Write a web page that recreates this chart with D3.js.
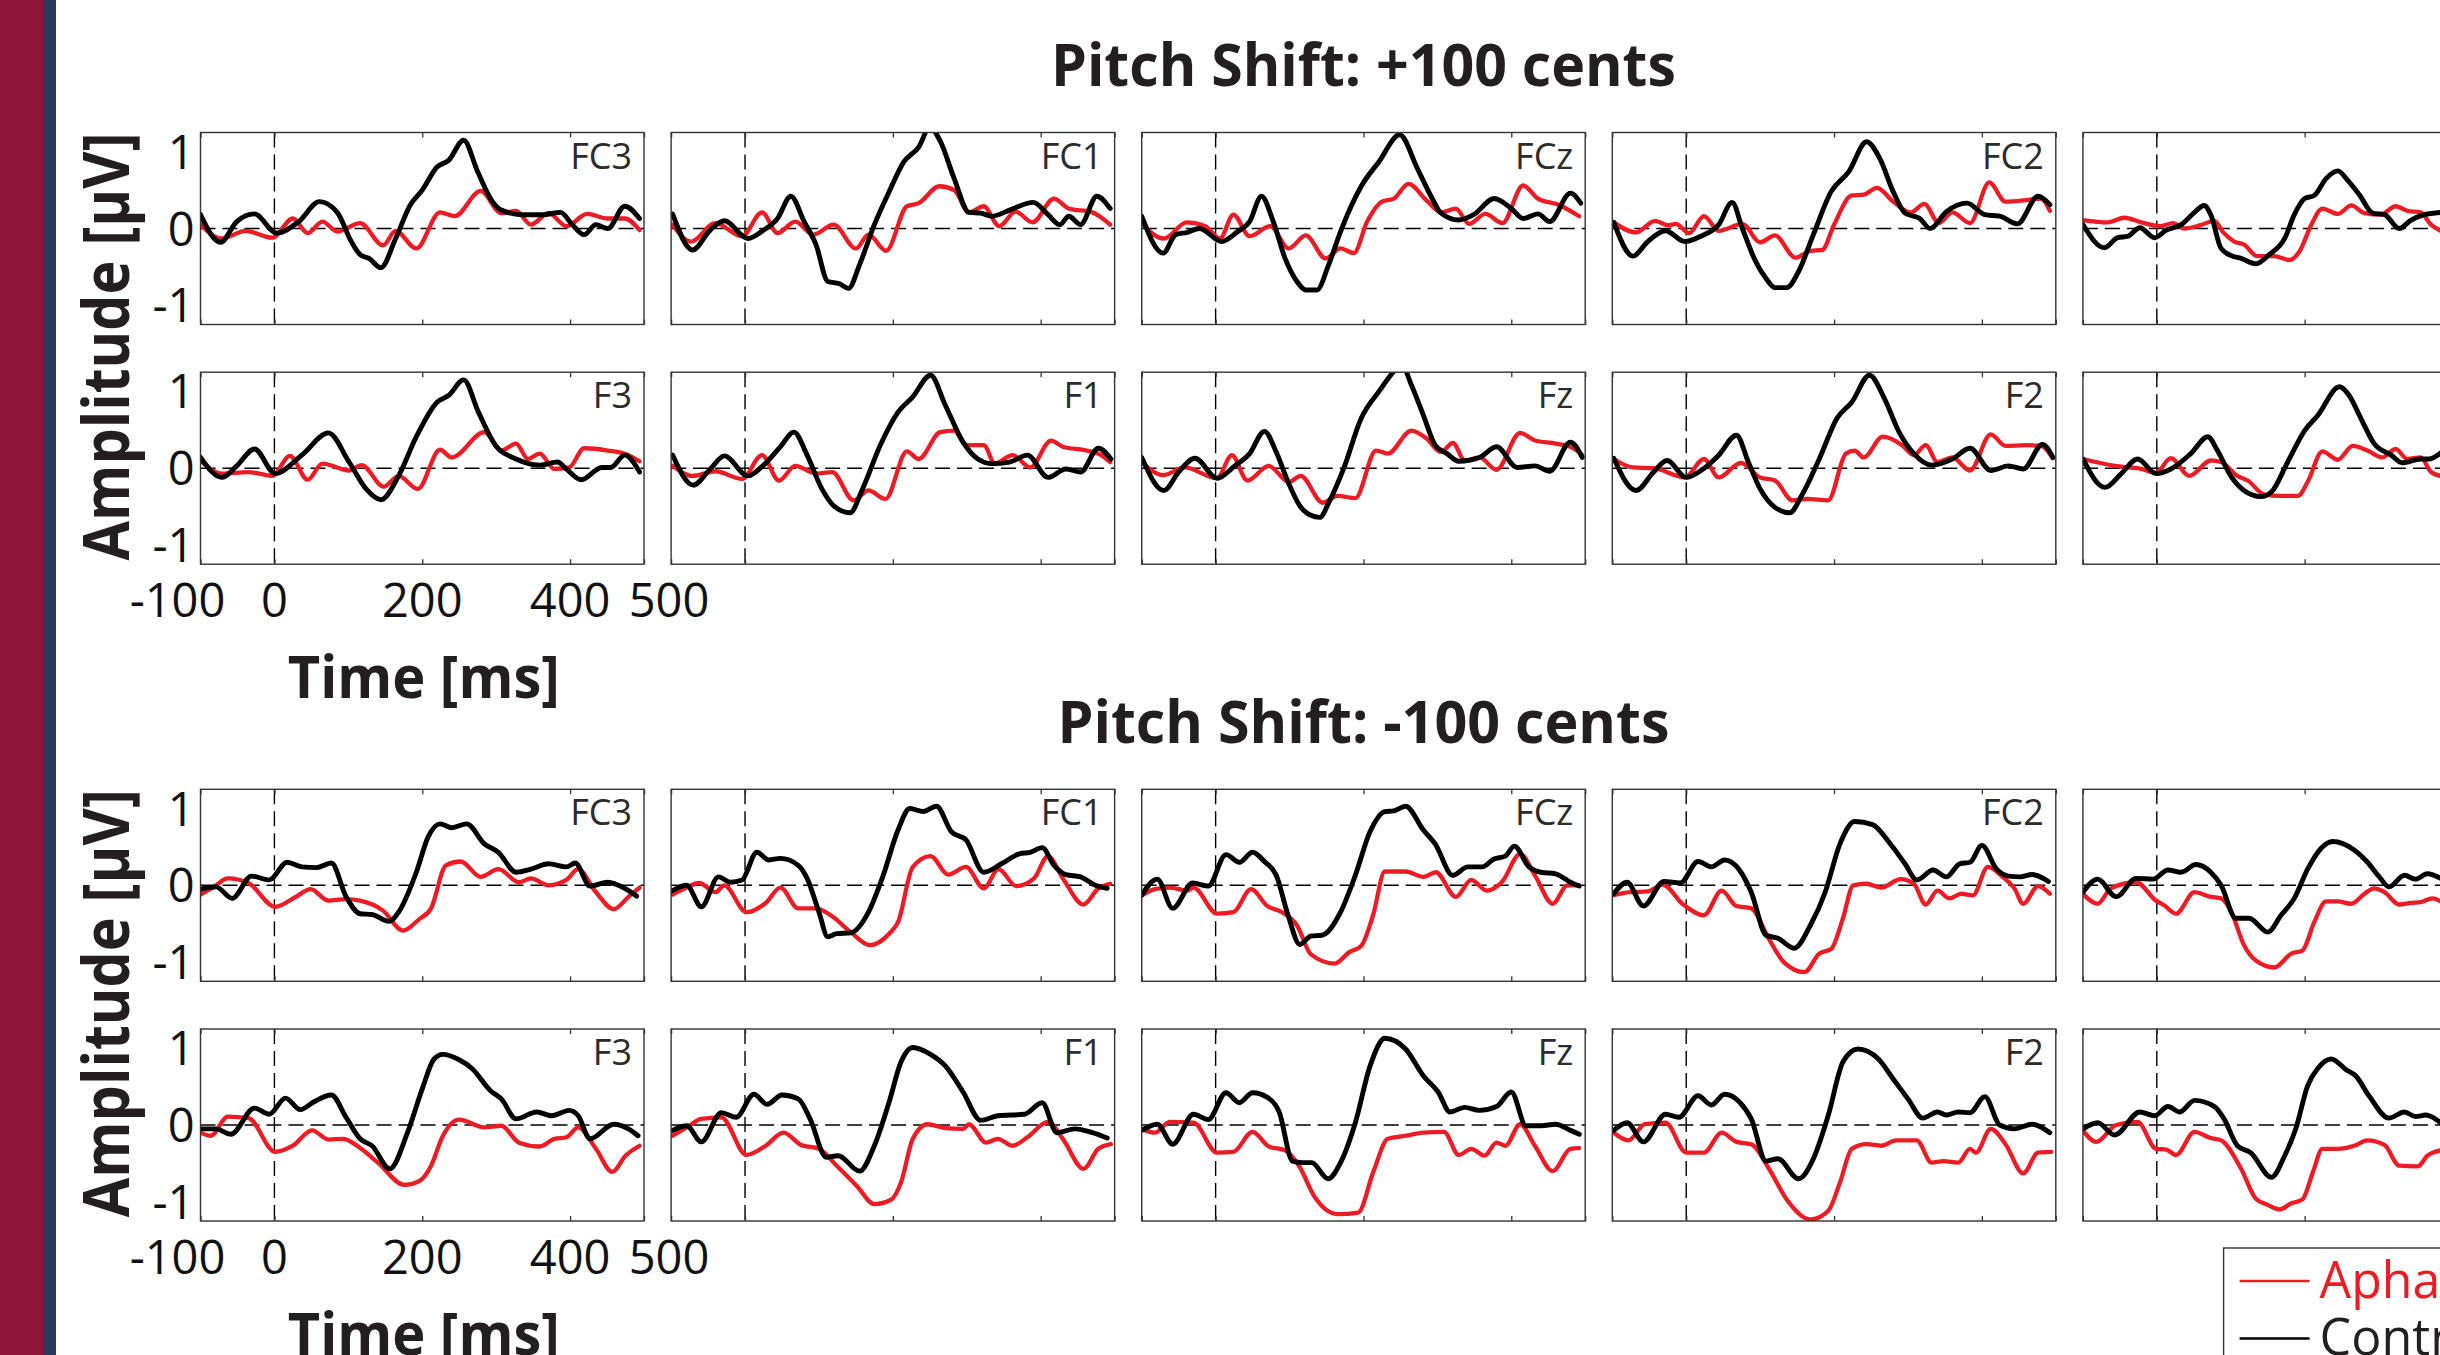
<!DOCTYPE html>
<html>
<head>
<meta charset="utf-8">
<script src="https://cdn.jsdelivr.net/npm/d3@7"></script>
<style>
  html, body { margin: 0; padding: 0; background: #ffffff; overflow: hidden; }
  svg { display: block; }
</style>
</head>
<body>
<svg id="fig" width="2440" height="1355"></svg>
<script>
// ---- labels and ticks ----
const conditionTitles = ["Pitch Shift: +100 cents", "Pitch Shift: -100 cents"];
const electrodeGrid = [["FC3", "FC1", "FCz", "FC2", "FC4"], ["F3", "F1", "Fz", "F2", "F4"]];
const groupNames = ["Aphasia", "Control"];
const xTickValues = [-100, 0, 200, 400, 500];
const yTickValues = [-1, 0, 1];

// ---- grand-average ERP waveforms, [time (ms), amplitude (µV)] ----
// +100 cents
const pos_FC3_aph = [[-100,0.05],[-71,-0.13],[-39,-0.03],[-3,-0.12],[25,0.13],[45,-0.06],[65,0.09],[85,-0.04],[116,0.07],[147,-0.22],[164,-0.03],[192,-0.26],[224,0.21],[244,0.16],[279,0.49],[307,0.2],[327,0.23],[347,0.05],[371,0.2],[395,0.03],[423,0.19],[451,0.13],[474,0.13],[494,-0.02]];
const pos_FC3_ctl = [[-100,0.18],[-73,-0.18],[-51,0.09],[-27,0.19],[3,-0.06],[33,0.09],[61,0.35],[85,0.21],[104,-0.17],[116,-0.34],[128,-0.39],[144,-0.51],[164,-0.13],[184,0.31],[200,0.5],[220,0.8],[236,0.89],[256,1.15],[275,0.74],[295,0.35],[307,0.24],[335,0.18],[363,0.18],[387,0.21],[403,0.05],[419,-0.08],[435,0.05],[451,0.0],[474,0.29],[494,0.13]];
const pos_FC1_aph = [[-98,0.05],[-73,-0.17],[-40,0.07],[-4,-0.10],[23,0.21],[44,-0.06],[68,0.09],[92,-0.08],[120,0.05],[150,-0.26],[167,-0.08],[191,-0.29],[219,0.29],[235,0.33],[263,0.55],[283,0.5],[303,0.21],[323,0.29],[344,0.03],[366,0.22],[389,0.08],[418,0.39],[438,0.26],[470,0.21],[494,0.05]];
const pos_FC1_ctl = [[-98,0.19],[-71,-0.28],[-47,-0.02],[-28,0.10],[4,-0.13],[24,-0.03],[44,0.13],[62,0.42],[80,0.09],[96,-0.21],[112,-0.69],[128,-0.72],[140,-0.78],[155,-0.47],[175,0.05],[195,0.48],[215,0.87],[235,1.06],[250,1.32],[264,1.14],[283,0.65],[303,0.21],[319,0.2],[334,0.16],[358,0.24],[390,0.34],[410,0.18],[426,0.05],[438,0.16],[454,0.05],[476,0.42],[494,0.26]];
const pos_FCz_aph = [[-100,0.07],[-70,-0.13],[-39,0.08],[-14,0.03],[6,-0.13],[24,0.18],[46,-0.10],[74,0.03],[99,-0.26],[122,-0.09],[149,-0.39],[169,-0.26],[187,-0.32],[205,0.09],[225,0.35],[241,0.39],[261,0.58],[285,0.37],[305,0.21],[325,0.26],[343,0.06],[365,0.19],[388,0.07],[416,0.56],[436,0.39],[464,0.31],[492,0.16]];
const pos_FCz_ctl = [[-100,0.16],[-71,-0.32],[-54,-0.08],[-38,-0.05],[-22,0.0],[8,-0.17],[30,-0.04],[46,0.09],[62,0.42],[78,0.09],[94,-0.39],[110,-0.69],[122,-0.80],[137,-0.80],[153,-0.47],[169,-0.04],[197,0.55],[221,0.87],[249,1.22],[273,0.78],[293,0.39],[305,0.2],[329,0.11],[349,0.18],[377,0.39],[400,0.26],[416,0.13],[436,0.19],[452,0.09],[480,0.46],[494,0.33]];
const pos_FC2_aph = [[-98,0.08],[-68,-0.05],[-42,0.10],[-24,0.04],[-14,0.06],[4,-0.06],[24,0.16],[44,-0.03],[76,0.06],[100,-0.18],[120,-0.09],[148,-0.38],[168,-0.29],[184,-0.28],[200,0.05],[224,0.43],[240,0.44],[258,0.53],[280,0.35],[304,0.21],[322,0.32],[342,0.07],[360,0.21],[384,0.07],[410,0.60],[432,0.35],[460,0.37],[480,0.39],[492,0.23]];
const pos_FC2_ctl = [[-98,0.08],[-72,-0.36],[-52,-0.17],[-28,-0.03],[-2,-0.17],[20,-0.10],[44,0.05],[62,0.34],[76,0.0],[92,-0.39],[108,-0.65],[120,-0.77],[136,-0.77],[152,-0.56],[172,-0.08],[196,0.48],[220,0.74],[244,1.13],[262,0.91],[280,0.48],[296,0.2],[316,0.13],[330,0.0],[352,0.22],[380,0.33],[404,0.18],[424,0.16],[448,0.06],[476,0.42],[492,0.31]];
const pos_FC4_aph = [[-100,0.11],[-66,0.08],[-44,0.14],[-21,0.08],[4,0.03],[22,0.07],[37,0.0],[58,0.04],[78,0.10],[89,-0.04],[105,-0.17],[118,-0.21],[136,-0.36],[159,-0.36],[179,-0.41],[193,-0.30],[209,0.05],[224,0.26],[245,0.19],[263,0.30],[281,0.20],[303,0.18],[323,0.29],[339,0.23],[357,0.21],[371,0.05],[384,-0.03]];
const pos_FC4_ctl = [[-100,0.05],[-71,-0.25],[-53,-0.12],[-39,-0.10],[-23,0.01],[-3,-0.12],[13,-0.02],[33,0.05],[51,0.21],[64,0.30],[73,0.18],[87,-0.26],[100,-0.35],[114,-0.39],[134,-0.46],[152,-0.34],[173,-0.13],[186,0.18],[200,0.39],[213,0.43],[229,0.65],[245,0.75],[258,0.63],[274,0.44],[292,0.2],[308,0.18],[328,0.0],[344,0.11],[362,0.18],[384,0.21]];
const pos_F3_aph = [[-100,0.10],[-71,-0.07],[-35,-0.05],[-3,-0.10],[21,0.16],[45,-0.15],[65,0.06],[101,-0.03],[118,0.04],[148,-0.24],[168,-0.10],[194,-0.27],[224,0.24],[240,0.14],[284,0.47],[307,0.23],[327,0.32],[343,0.12],[359,0.19],[379,-0.01],[399,0.01],[419,0.26],[451,0.23],[479,0.17],[494,0.09]];
const pos_F3_ctl = [[-100,0.14],[-71,-0.12],[-51,0.03],[-27,0.25],[1,-0.07],[37,0.17],[73,0.46],[101,0.08],[124,-0.27],[144,-0.41],[168,-0.10],[192,0.41],[220,0.86],[236,0.95],[256,1.15],[276,0.73],[299,0.3],[327,0.12],[359,0.04],[383,0.08],[395,-0.01],[415,-0.15],[443,0.01],[455,0.01],[474,0.17],[494,-0.05]];
const pos_F1_aph = [[-98,0.03],[-71,-0.10],[-40,-0.04],[-4,-0.14],[23,0.17],[46,-0.16],[68,0.03],[96,-0.07],[118,-0.05],[147,-0.42],[167,-0.29],[190,-0.40],[219,0.22],[235,0.12],[264,0.47],[283,0.49],[299,0.30],[323,0.30],[338,0.06],[362,0.17],[386,0.01],[414,0.36],[430,0.28],[462,0.23],[482,0.17],[494,0.08]];
const pos_F1_ctl = [[-98,0.17],[-70,-0.22],[-47,-0.01],[-28,0.16],[4,-0.10],[24,0.03],[48,0.28],[66,0.47],[84,0.17],[104,-0.27],[120,-0.49],[142,-0.58],[159,-0.27],[183,0.30],[207,0.73],[227,0.93],[251,1.21],[271,0.82],[295,0.34],[315,0.12],[334,0.06],[358,0.08],[382,0.17],[410,-0.12],[434,-0.01],[454,-0.05],[478,0.26],[495,0.12]];
const pos_Fz_aph = [[-100,0.08],[-71,-0.09],[-42,0.01],[2,-0.13],[22,0.17],[43,-0.16],[72,0.03],[99,-0.18],[115,-0.10],[145,-0.45],[165,-0.36],[189,-0.39],[217,0.23],[233,0.19],[265,0.49],[285,0.39],[305,0.21],[321,0.33],[337,0.10],[357,0.14],[380,-0.02],[412,0.46],[432,0.36],[460,0.32],[484,0.26],[496,0.17]];
const pos_Fz_ctl = [[-100,0.14],[-70,-0.29],[-50,-0.05],[-28,0.13],[2,-0.13],[26,0.03],[46,0.19],[66,0.48],[82,0.21],[98,-0.18],[114,-0.49],[128,-0.61],[141,-0.64],[153,-0.45],[173,-0.01],[197,0.65],[221,1.0],[241,1.26],[251,1.36],[265,1.08],[281,0.69],[297,0.30],[313,0.19],[329,0.09],[357,0.14],[380,0.28],[408,0.01],[432,0.03],[452,-0.04],[480,0.34],[496,0.14]];
const pos_F2_aph = [[-98,0.12],[-72,0.01],[-44,0.0],[-2,-0.12],[24,0.12],[44,-0.12],[74,0.07],[100,-0.12],[120,-0.16],[144,-0.42],[164,-0.40],[192,-0.42],[216,0.19],[228,0.23],[240,0.14],[266,0.41],[292,0.30],[308,0.17],[324,0.30],[340,0.08],[360,0.14],[384,-0.03],[412,0.44],[432,0.29],[460,0.30],[480,0.29],[496,0.13]];
const pos_F2_ctl = [[-98,0.13],[-68,-0.29],[-44,-0.05],[-26,0.10],[0,-0.12],[20,-0.03],[44,0.17],[68,0.43],[84,0.08],[100,-0.27],[120,-0.51],[140,-0.58],[156,-0.36],[180,0.12],[204,0.65],[224,0.86],[248,1.21],[268,0.91],[288,0.47],[308,0.19],[332,0.04],[360,0.12],[384,0.26],[412,-0.03],[436,0.03],[456,-0.01],[482,0.31],[496,0.14]];
const pos_F4_aph = [[-100,0.12],[-57,0.03],[-21,-0.01],[-1,-0.06],[19,0.13],[44,-0.10],[73,0.10],[87,0.08],[109,-0.10],[123,-0.16],[145,-0.34],[168,-0.36],[191,-0.36],[204,-0.18],[224,0.22],[245,0.11],[265,0.29],[285,0.23],[305,0.14],[323,0.25],[339,0.12],[357,0.14],[371,-0.05],[384,-0.10]];
const pos_F4_ctl = [[-100,0.12],[-70,-0.25],[-48,-0.07],[-26,0.12],[-1,-0.07],[19,-0.01],[46,0.19],[69,0.41],[82,0.23],[100,-0.10],[118,-0.29],[141,-0.37],[155,-0.31],[177,0.08],[200,0.49],[218,0.69],[247,1.06],[260,0.95],[276,0.65],[294,0.32],[317,0.17],[332,0.07],[357,0.12],[368,0.12],[384,0.20]];

// -100 cents
const neg_FC3_aph = [[-100,-0.12],[-82,-0.02],[-63,0.09],[-35,0.03],[1,-0.28],[29,-0.15],[49,-0.05],[73,-0.20],[97,-0.18],[116,-0.20],[147,-0.33],[174,-0.59],[196,-0.44],[212,-0.30],[232,0.26],[252,0.31],[279,0.11],[303,0.21],[331,0.04],[347,0.09],[371,0.0],[395,0.07],[411,0.21],[435,-0.09],[459,-0.31],[479,-0.15],[494,-0.03]];
const neg_FC3_ctl = [[-100,-0.05],[-79,-0.02],[-57,-0.17],[-31,0.12],[-7,0.07],[17,0.30],[37,0.24],[57,0.23],[77,0.29],[97,-0.15],[116,-0.37],[132,-0.38],[155,-0.47],[168,-0.35],[192,0.17],[208,0.63],[224,0.80],[240,0.75],[260,0.80],[284,0.54],[303,0.43],[327,0.17],[347,0.21],[371,0.28],[395,0.24],[407,0.29],[427,-0.01],[451,0.04],[474,-0.04],[490,-0.14]];
const neg_FC1_aph = [[-98,-0.12],[-79,-0.03],[-62,0.03],[-40,-0.09],[-28,0.0],[2,-0.35],[28,-0.23],[48,-0.03],[72,-0.30],[96,-0.30],[116,-0.39],[143,-0.61],[169,-0.78],[195,-0.63],[207,-0.48],[227,0.24],[251,0.38],[275,0.14],[299,0.24],[323,-0.04],[343,0.21],[367,-0.01],[391,0.09],[410,0.38],[430,0.09],[458,-0.25],[478,-0.04],[494,0.02]];
const neg_FC1_ctl = [[-98,-0.07],[-79,0.0],[-59,-0.28],[-36,0.11],[-20,0.04],[-4,0.07],[16,0.43],[32,0.33],[48,0.35],[72,0.26],[84,0.09],[100,-0.35],[112,-0.67],[124,-0.63],[143,-0.62],[167,-0.35],[187,0.13],[207,0.72],[223,1.0],[241,0.96],[259,1.03],[279,0.70],[299,0.59],[323,0.17],[347,0.28],[371,0.41],[386,0.43],[402,0.49],[418,0.26],[434,0.14],[454,0.11],[474,0.0],[490,-0.04]];
const neg_FCz_aph = [[-100,-0.13],[-82,-0.05],[-62,-0.03],[-38,-0.07],[-30,-0.03],[2,-0.37],[24,-0.35],[48,-0.05],[70,-0.27],[90,-0.35],[110,-0.52],[129,-0.90],[161,-1.02],[181,-0.87],[197,-0.79],[213,-0.39],[229,0.18],[257,0.18],[281,0.11],[298,0.17],[325,-0.15],[346,0.07],[367,-0.07],[388,0.05],[412,0.41],[432,0.13],[456,-0.24],[476,0.0],[492,0.0]];
const neg_FCz_ctl = [[-100,-0.13],[-79,0.08],[-58,-0.30],[-31,0.03],[-10,-0.01],[14,0.40],[32,0.30],[50,0.43],[66,0.31],[82,0.13],[98,-0.39],[114,-0.77],[129,-0.66],[144,-0.65],[169,-0.35],[189,0.13],[209,0.70],[229,0.96],[241,0.97],[257,1.03],[281,0.72],[297,0.54],[321,0.13],[341,0.24],[361,0.24],[376,0.34],[392,0.38],[404,0.51],[424,0.24],[440,0.17],[460,0.15],[480,0.04],[492,-0.01]];
const neg_FC2_aph = [[-98,-0.13],[-76,-0.09],[-52,-0.08],[-32,0.01],[-4,-0.25],[24,-0.39],[48,-0.07],[68,-0.27],[88,-0.30],[112,-0.70],[132,-1.0],[160,-1.13],[180,-0.89],[196,-0.83],[212,-0.43],[226,0.0],[244,0.02],[264,-0.03],[290,0.08],[308,0.02],[324,-0.25],[340,-0.07],[356,-0.17],[372,-0.11],[388,-0.13],[408,0.24],[428,0.11],[444,-0.04],[456,-0.24],[476,-0.01],[492,-0.11]];
const neg_FC2_ctl = [[-98,-0.11],[-80,0.04],[-58,-0.27],[-30,0.05],[-8,0.03],[16,0.31],[34,0.24],[52,0.33],[72,0.20],[88,-0.09],[108,-0.65],[124,-0.69],[146,-0.82],[168,-0.52],[188,-0.09],[208,0.54],[228,0.83],[252,0.79],[276,0.54],[296,0.28],[312,0.07],[334,0.20],[352,0.11],[370,0.28],[384,0.30],[400,0.52],[420,0.21],[436,0.12],[452,0.11],[468,0.14],[490,0.05]];
const neg_FC4_aph = [[-100,-0.11],[-80,-0.24],[-62,-0.04],[-28,0.04],[-1,-0.20],[10,-0.26],[26,-0.37],[51,-0.09],[73,-0.15],[87,-0.17],[100,-0.33],[118,-0.78],[134,-0.98],[159,-1.07],[182,-0.89],[197,-0.85],[213,-0.48],[229,-0.21],[245,-0.21],[263,-0.24],[281,-0.11],[294,-0.04],[308,-0.09],[328,-0.25],[344,-0.23],[357,-0.22],[373,-0.17],[384,-0.21]];
const neg_FC4_ctl = [[-100,-0.09],[-80,0.08],[-55,-0.15],[-28,0.09],[-5,0.08],[15,0.20],[33,0.17],[53,0.27],[73,0.17],[87,0.0],[107,-0.43],[125,-0.43],[150,-0.61],[168,-0.39],[186,-0.17],[204,0.21],[222,0.48],[238,0.57],[267,0.46],[285,0.30],[301,0.11],[314,-0.02],[335,0.13],[350,0.08],[366,0.15],[384,0.09]];
const neg_F3_aph = [[-100,-0.10],[-86,-0.14],[-63,0.11],[-35,0.09],[1,-0.35],[25,-0.27],[51,-0.07],[73,-0.19],[93,-0.18],[116,-0.30],[140,-0.49],[176,-0.78],[196,-0.73],[212,-0.53],[228,-0.14],[250,0.07],[284,-0.03],[307,-0.01],[331,-0.23],[359,-0.28],[379,-0.18],[395,-0.16],[411,-0.03],[435,-0.31],[457,-0.61],[475,-0.40],[494,-0.27]];
const neg_F3_ctl = [[-100,-0.05],[-79,-0.05],[-59,-0.12],[-27,0.22],[-7,0.14],[15,0.35],[35,0.20],[53,0.30],[77,0.39],[97,0.10],[116,-0.18],[132,-0.27],[156,-0.57],[180,-0.10],[200,0.47],[216,0.86],[228,0.92],[248,0.86],[268,0.73],[292,0.45],[307,0.34],[327,0.08],[355,0.17],[375,0.12],[399,0.19],[411,0.12],[427,-0.18],[459,0.01],[479,-0.05],[492,-0.14]];
const neg_F1_aph = [[-98,-0.14],[-79,-0.03],[-59,0.08],[-32,0.10],[2,-0.39],[28,-0.27],[52,-0.10],[76,-0.26],[100,-0.31],[124,-0.53],[151,-0.79],[175,-1.03],[198,-0.97],[211,-0.75],[227,-0.18],[247,0.01],[271,-0.04],[295,-0.05],[303,0.01],[326,-0.23],[342,-0.18],[362,-0.27],[382,-0.16],[410,0.04],[430,-0.18],[458,-0.57],[478,-0.31],[495,-0.25]];
const neg_F1_ctl = [[-98,-0.07],[-79,-0.01],[-59,-0.22],[-32,0.16],[-12,0.10],[12,0.40],[30,0.27],[50,0.39],[72,0.34],[88,0.08],[110,-0.42],[126,-0.40],[155,-0.60],[175,-0.27],[195,0.30],[211,0.82],[227,1.01],[251,0.92],[271,0.77],[295,0.43],[319,0.06],[342,0.12],[378,0.14],[402,0.29],[422,-0.10],[446,-0.05],[470,-0.10],[490,-0.17]];
const neg_Fz_aph = [[-100,-0.05],[-82,-0.10],[-62,0.04],[-30,0.03],[2,-0.36],[24,-0.35],[50,-0.09],[72,-0.28],[94,-0.33],[114,-0.55],[133,-0.92],[165,-1.16],[193,-1.14],[213,-0.62],[233,-0.18],[257,-0.14],[281,-0.10],[309,-0.09],[329,-0.39],[346,-0.31],[364,-0.40],[380,-0.23],[392,-0.27],[412,0.01],[432,-0.27],[456,-0.60],[480,-0.31],[492,-0.30]];
const neg_Fz_ctl = [[-100,-0.07],[-79,0.01],[-58,-0.25],[-30,0.14],[-10,0.07],[14,0.42],[32,0.29],[50,0.42],[70,0.36],[86,0.17],[104,-0.47],[118,-0.49],[130,-0.49],[152,-0.70],[169,-0.49],[189,0.03],[209,0.77],[229,1.13],[257,0.99],[281,0.64],[301,0.43],[317,0.17],[337,0.23],[357,0.19],[380,0.24],[400,0.43],[420,-0.01],[440,-0.01],[460,0.01],[480,-0.07],[492,-0.12]];
const neg_F2_aph = [[-98,-0.10],[-78,-0.20],[-56,0.01],[-28,0.03],[0,-0.36],[24,-0.36],[48,-0.10],[68,-0.22],[88,-0.25],[112,-0.57],[136,-0.97],[168,-1.23],[192,-1.12],[208,-0.75],[224,-0.31],[244,-0.25],[264,-0.27],[284,-0.20],[312,-0.20],[332,-0.49],[348,-0.47],[368,-0.49],[384,-0.31],[392,-0.36],[412,-0.05],[432,-0.25],[456,-0.63],[476,-0.36],[494,-0.35]];
const neg_F2_ctl = [[-98,-0.07],[-80,0.03],[-58,-0.22],[-28,0.14],[-10,0.10],[16,0.38],[34,0.26],[52,0.40],[72,0.30],[88,0.08],[108,-0.47],[124,-0.44],[152,-0.70],[172,-0.44],[192,0.12],[212,0.82],[232,0.99],[260,0.86],[280,0.60],[300,0.34],[320,0.09],[340,0.17],[352,0.13],[368,0.17],[384,0.16],[404,0.37],[424,0.0],[444,-0.05],[468,0.01],[492,-0.10]];
const neg_F4_aph = [[-100,-0.07],[-82,-0.22],[-55,0.0],[-26,0.04],[-1,-0.31],[13,-0.32],[26,-0.39],[51,-0.09],[73,-0.17],[87,-0.20],[114,-0.57],[134,-0.96],[150,-1.04],[166,-1.10],[182,-1.02],[197,-0.97],[211,-0.62],[224,-0.31],[245,-0.31],[267,-0.27],[285,-0.20],[308,-0.26],[328,-0.53],[353,-0.54],[366,-0.40],[384,-0.33]];
const neg_F4_ctl = [[-100,-0.05],[-80,0.03],[-57,-0.13],[-23,0.17],[-3,0.12],[15,0.24],[31,0.17],[51,0.32],[78,0.24],[91,0.08],[109,-0.27],[127,-0.36],[155,-0.68],[173,-0.40],[188,-0.05],[204,0.51],[218,0.74],[236,0.86],[256,0.72],[269,0.64],[287,0.38],[314,0.09],[335,0.17],[350,0.11],[364,0.13],[384,0.03]];

// lookup: condition -> electrode -> [aphasia, control]
const waveforms = [
  { FC3: [pos_FC3_aph, pos_FC3_ctl], FC1: [pos_FC1_aph, pos_FC1_ctl], FCz: [pos_FCz_aph, pos_FCz_ctl], FC2: [pos_FC2_aph, pos_FC2_ctl], FC4: [pos_FC4_aph, pos_FC4_ctl],
    F3: [pos_F3_aph, pos_F3_ctl], F1: [pos_F1_aph, pos_F1_ctl], Fz: [pos_Fz_aph, pos_Fz_ctl], F2: [pos_F2_aph, pos_F2_ctl], F4: [pos_F4_aph, pos_F4_ctl] },
  { FC3: [neg_FC3_aph, neg_FC3_ctl], FC1: [neg_FC1_aph, neg_FC1_ctl], FCz: [neg_FCz_aph, neg_FCz_ctl], FC2: [neg_FC2_aph, neg_FC2_ctl], FC4: [neg_FC4_aph, neg_FC4_ctl],
    F3: [neg_F3_aph, neg_F3_ctl], F1: [neg_F1_aph, neg_F1_ctl], Fz: [neg_Fz_aph, neg_Fz_ctl], F2: [neg_F2_aph, neg_F2_ctl], F4: [neg_F4_aph, neg_F4_ctl] }
];

// ---- appearance ----
const groupColors = ["#ed1c24", "#000000"];
const groupWidths = [4.3, 4.9];
const axisColor = "#333333";
const FONT = "'Open Sans', 'Noto Sans', sans-serif";

// ---- layout ----
const W = 2440;
const panelW = 443.5, panelH = 192;
const colX0 = 200.5, colStep = 470.6;
const blockTops = [132.5, 789.3];
const rowStep = 239.7;

const svg = d3.select("#fig");

// side banner
svg.append("rect").attr("x", 0).attr("y", 0).attr("width", 43).attr("height", 1355).attr("fill", "#8d1538");
svg.append("rect").attr("x", 43).attr("y", 0).attr("width", 13).attr("height", 1355).attr("fill", "#293a5c");

const x = d3.scaleLinear().domain([-100, 500]).range([0, panelW]);
const y = d3.scaleLinear().domain([-1.25, 1.25]).range([panelH, 0]);
const line = d3.line().x(d => x(d[0])).y(d => y(d[1])).curve(d3.curveMonotoneX);

const defs = svg.append("defs");
defs.append("clipPath").attr("id", "panel-clip")
  .append("rect").attr("x", 0).attr("y", 0).attr("width", panelW).attr("height", panelH);

conditionTitles.forEach((title, b) => {
  const top = blockTops[b];

  // condition title
  svg.append("text")
    .attr("x", colX0 + (4 * colStep + panelW) / 2)
    .attr("y", top - 46.5)
    .attr("text-anchor", "middle")
    .attr("font-family", FONT).attr("font-weight", 700).attr("font-size", 59)
    .attr("fill", "#231f20")
    .attr("textLength", b === 0 ? 625 : 612).attr("lengthAdjust", "spacingAndGlyphs")
    .text(title);

  electrodeGrid.forEach((rowNames, r) => {
    rowNames.forEach((name, c) => {
      const left = colX0 + c * colStep;
      const g = svg.append("g")
        .attr("transform", `translate(${left},${top + r * rowStep})`);

      // reference lines: stimulus onset and zero amplitude
      g.append("line")
        .attr("x1", x(0)).attr("x2", x(0)).attr("y1", 0).attr("y2", panelH)
        .attr("stroke", "#000").attr("stroke-width", 1.4).attr("stroke-dasharray", "15 7");
      g.append("line")
        .attr("x1", 0).attr("x2", panelW).attr("y1", y(0)).attr("y2", y(0))
        .attr("stroke", "#000").attr("stroke-width", 1.4).attr("stroke-dasharray", "15 7");

      // waveforms
      const wg = g.append("g").attr("clip-path", "url(#panel-clip)");
      waveforms[b][name].forEach((series, k) => {
        wg.append("path")
          .attr("d", line(series))
          .attr("fill", "none")
          .attr("stroke", groupColors[k])
          .attr("stroke-width", groupWidths[k])
          .attr("stroke-linejoin", "round")
          .attr("stroke-linecap", "round");
      });

      // inward ticks on top and bottom
      g.append("g").attr("transform", `translate(0,${panelH})`)
        .call(d3.axisBottom(x).tickValues(xTickValues).tickSize(-5).tickSizeOuter(0).tickFormat(""))
        .call(a => a.select(".domain").remove())
        .call(a => a.selectAll("line").attr("stroke", axisColor).attr("stroke-width", 1.3));
      g.append("g")
        .call(d3.axisTop(x).tickValues(xTickValues).tickSize(-5).tickSizeOuter(0).tickFormat(""))
        .call(a => a.select(".domain").remove())
        .call(a => a.selectAll("line").attr("stroke", axisColor).attr("stroke-width", 1.3));

      // frame
      g.append("rect")
        .attr("x", 0).attr("y", 0).attr("width", panelW).attr("height", panelH)
        .attr("fill", "none").attr("stroke", axisColor).attr("stroke-width", 1.4);

      // electrode name (only where it falls inside the figure)
      if (left + panelW - 12 <= W) {
        g.append("text")
          .attr("x", panelW - 12).attr("y", 36)
          .attr("text-anchor", "end")
          .attr("font-family", FONT).attr("font-size", 36).attr("fill", "#2b2b2b")
          .text(name);
      }

      // amplitude tick labels on the first column
      if (c === 0) {
        yTickValues.forEach(v => {
          g.append("text")
            .attr("x", -6).attr("y", y(v) + 17)
            .attr("text-anchor", "end")
            .attr("font-family", FONT).attr("font-size", 47).attr("fill", "#111")
            .text(v < 0 ? "-" + Math.abs(v) : String(v));
        });
      }

      // time tick labels under the lower-left panel
      if (c === 0 && r === 1) {
        xTickValues.forEach((t, i) => {
          const nudge = i === 0 ? -23 : (i === xTickValues.length - 1 ? 25 : 0);
          g.append("text")
            .attr("x", x(t) + nudge).attr("y", panelH + 52.5)
            .attr("text-anchor", "middle")
            .attr("font-family", FONT).attr("font-size", 47).attr("fill", "#111")
            .text(t < 0 ? "-" + Math.abs(t) : String(t));
        });
        g.append("text")
          .attr("x", panelW / 2 + 1.5).attr("y", panelH + 133.5)
          .attr("text-anchor", "middle")
          .attr("font-family", FONT).attr("font-weight", 700).attr("font-size", 59)
          .attr("fill", "#231f20")
          .attr("textLength", 272).attr("lengthAdjust", "spacingAndGlyphs")
          .text("Time [ms]");
      }
    });
  });

  // amplitude axis title
  svg.append("text")
    .attr("transform", `translate(128.6,${top + 214}) rotate(-90)`)
    .attr("text-anchor", "middle")
    .attr("font-family", FONT).attr("font-weight", 700).attr("font-size", 64)
    .attr("fill", "#231f20")
    .attr("textLength", 428).attr("lengthAdjust", "spacingAndGlyphs")
    .text("Amplitude [µV]");
});

// legend
const legend = svg.append("g").attr("transform", "translate(2223.6,1248)");
legend.append("rect")
  .attr("x", 0).attr("y", 0).attr("width", 260).attr("height", 140)
  .attr("fill", "#fff").attr("stroke", axisColor).attr("stroke-width", 1.4);
groupNames.forEach((name, k) => {
  const ly = 33 + k * 57.5;
  legend.append("line")
    .attr("x1", 16).attr("x2", 86).attr("y1", ly).attr("y2", ly)
    .attr("stroke", groupColors[k]).attr("stroke-width", 2.6);
  legend.append("text")
    .attr("x", 96).attr("y", ly + 16.5)
    .attr("font-family", FONT).attr("font-size", 52)
    .attr("fill", k === 0 ? groupColors[0] : "#231f20")
    .attr("textLength", k === 0 ? 185 : 174).attr("lengthAdjust", "spacingAndGlyphs")
    .text(name);
});
</script>
</body>
</html>
